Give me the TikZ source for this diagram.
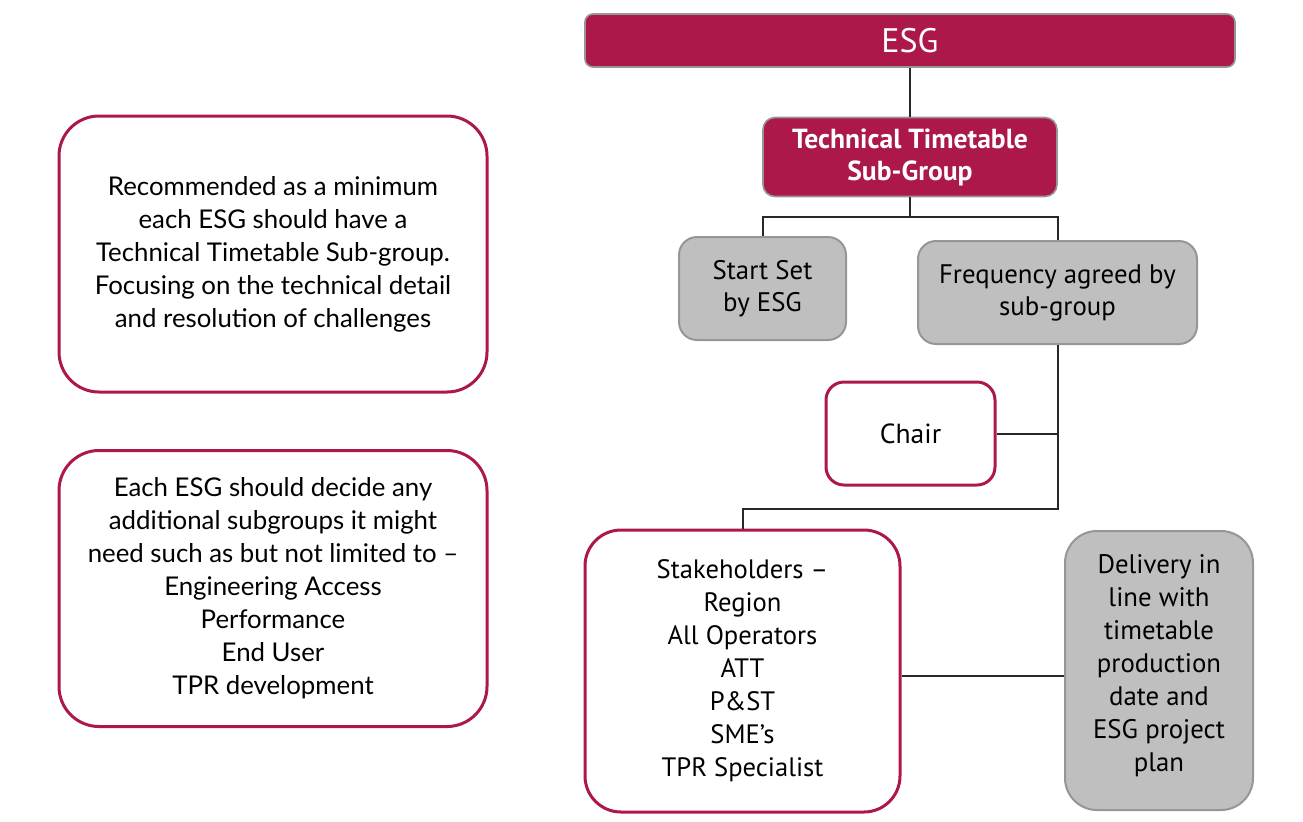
\documentclass[tikz,border=0pt]{standalone}
\usepackage{fontspec}
\setmainfont{Lato}
\newfontfamily\narrowfont[Ligatures=TeX]{PT Sans}
\usepackage{xcolor}
\usetikzlibrary{positioning}

\definecolor{esgred}{RGB}{173,24,74}
\definecolor{boxgrey}{RGB}{191,191,191}
\definecolor{rimgrey}{RGB}{150,150,150}
\definecolor{linkgrey}{RGB}{40,40,40}

\begin{document}
\begin{tikzpicture}[%
    x=0.5pt,
    y=-0.5pt,
    headbox/.style={%
      rectangle,
      rounded corners=4pt,
      fill=esgred,
      draw=rimgrey,
      line width=0.8pt,
      text=white,
      align=center,
      inner sep=0pt
    },
    greybox/.style={%
      rectangle,
      rounded corners=9pt,
      fill=boxgrey,
      draw=rimgrey,
      line width=1pt,
      align=center,
      inner sep=0pt,
      font=\narrowfont\fontsize{13.4}{16}\selectfont
    },
    redbox/.style={%
      rectangle,
      rounded corners=9pt,
      fill=white,
      draw=esgred,
      line width=1.5pt,
      align=center,
      inner sep=0pt,
      font=\narrowfont\fontsize{13.3}{16.5}\selectfont
    },
    notebox/.style={%
      redbox,
      rounded corners=20pt,
      minimum width=214pt,
      minimum height=138pt,
      font=\fontsize{12.9}{16.5}\selectfont
    },
    link/.style={%
      draw=linkgrey,
      line width=1pt
    }
  ]
    \useasboundingbox (0,0) rectangle (1303,821);

    % tree on the right
    \node[headbox, minimum width=325pt, minimum height=26.5pt,
          font=\narrowfont\fontsize{17}{20}\selectfont] (esg) at (910,40.5) {ESG};
    \node[headbox, rounded corners=6pt, minimum width=147pt, minimum height=39.5pt,
          font=\narrowfont\bfseries\fontsize{13.8}{16}\selectfont] (ttsg) at (910,157)
          {Technical Timetable\\Sub-Group};
    \node[greybox, minimum width=83.5pt, minimum height=51.5pt] (start) at (762.5,288.5)
          {Start Set\\by ESG};
    \node[greybox, minimum width=139.5pt, minimum height=51.5pt] (freq) at (1057.5,292.5)
          {Frequency agreed by\\sub-group};
    \node[redbox, minimum width=84.5pt, minimum height=51.5pt,
          font=\narrowfont\fontsize{13.8}{16.5}\selectfont] (chair) at (910.5,433.5)
          {Chair};
    \node[redbox, rounded corners=18pt, minimum width=157.5pt, minimum height=141pt] (stake) at (742.5,671)
          {Stakeholders –\\Region\\All Operators\\ATT\\P\&ST\\SME’s\\TPR Specialist};
    \node[greybox, rounded corners=16pt, minimum width=94pt, minimum height=139.5pt,
          font=\narrowfont\fontsize{13.4}{16.5}\selectfont] (deliv) at (1159,670.5)
          {Delivery in\\line with\\timetable\\production\\date and\\ESG project\\plan\\[-8.5pt]};

    % notes on the left
    \node[notebox] (note1) at (273,254)
          {Recommended as a minimum\\each ESG should have a\\Technical Timetable Sub-group.\\Focusing on the technical detail\\and resolution of challenges};
    \node[notebox] (note2) at (273,588.5)
          {Each ESG should decide any\\additional subgroups it might\\need such as but not limited to –\\Engineering Access\\Performance\\End User\\TPR development};

    % connectors
    \coordinate (fork) at (ttsg.south |- 0,217);
    \coordinate (join) at (freq.south |- 0,509);
    \draw[link] (esg) -- (ttsg);
    \draw[link] (ttsg) -- (fork);
    \draw[link] (start.north) |- (fork) -| (freq.north);
    \draw[link] (freq.south) -- (join) -| (stake.north);
    \draw[link] (chair.east) -- (chair.east -| freq.south);
    \draw[link] (stake.east |- 0,676) -- (deliv.west |- 0,676);
\end{tikzpicture}
\end{document}
